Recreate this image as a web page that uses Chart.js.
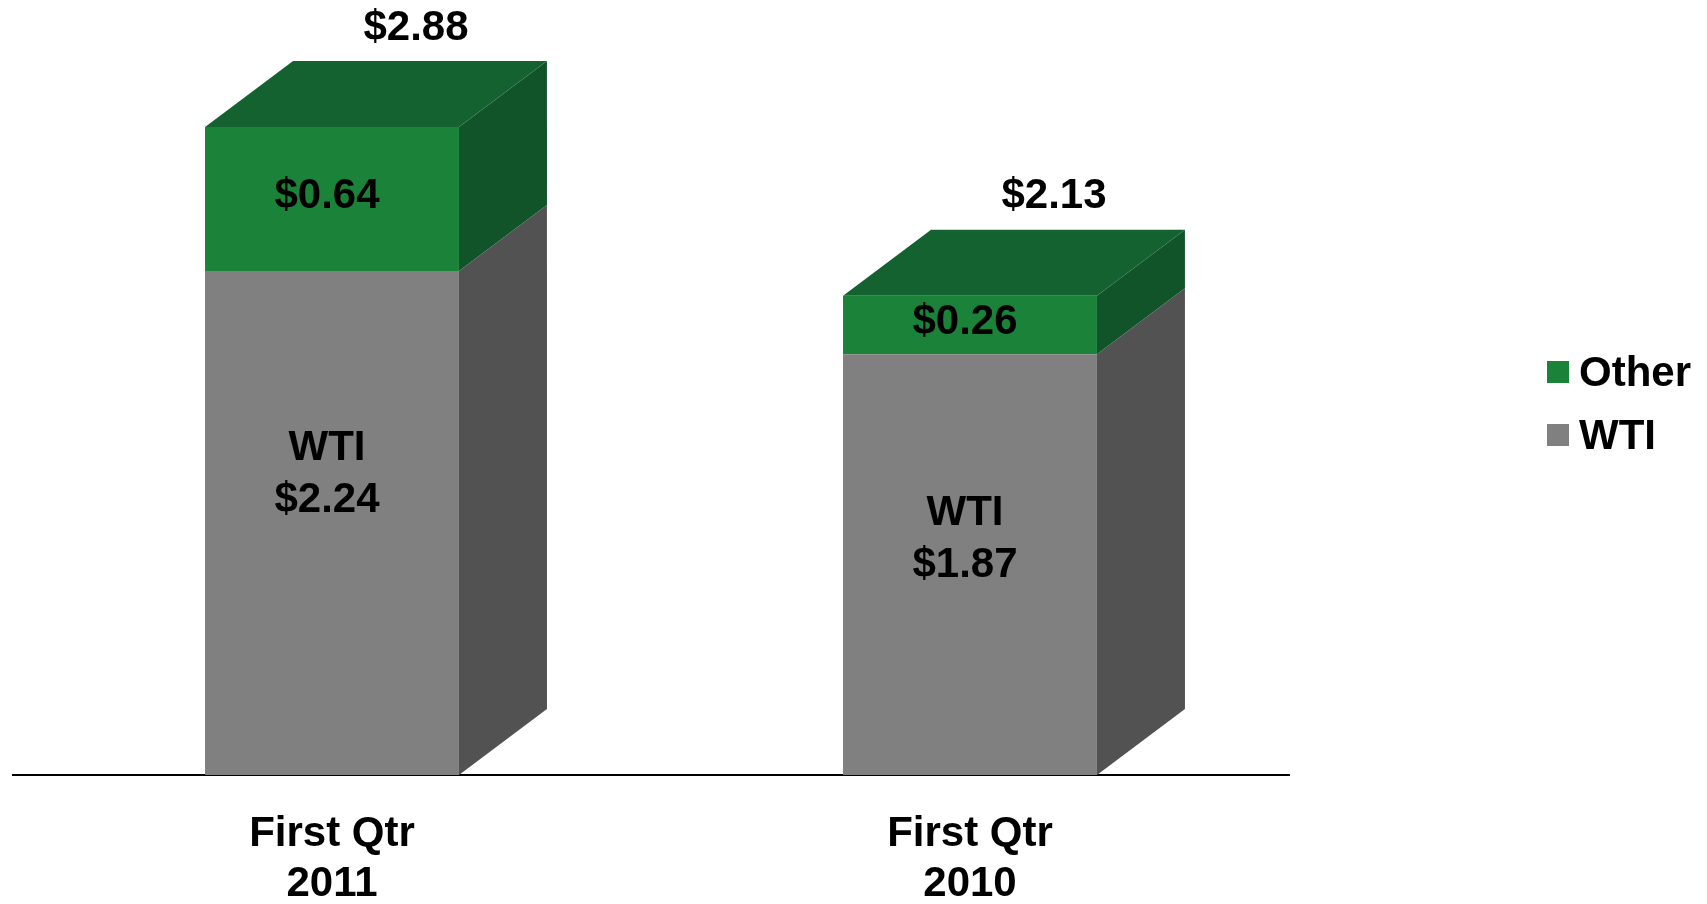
<!DOCTYPE html>
<html>
<head>
<meta charset="utf-8">
<script src="https://cdn.jsdelivr.net/npm/chart.js@4.4.0/dist/chart.umd.min.js"></script>
<style>
  html, body { margin: 0; padding: 0; background: #fff; }
  #wrap { width: 1707px; height: 904px; position: relative; }
</style>
</head>
<body>
<div id="wrap"><canvas id="chart"></canvas></div>
<script>
// data
var categories = [['First Qtr', '2011'], ['First Qtr', '2010']];
var wti = [2.24, 1.87];
var other = [0.64, 0.26];

var FONT = '"Liberation Sans", Arial, sans-serif';
var DX = 88, DY = 66; // depth of the 3d boxes

function money(v) { return '$' + v.toFixed(2); }

// draws the side + top faces, the value labels and the legend
var boxes3d = {
    id: 'boxes3d',
    beforeDatasetsDraw: function (chart) {
        var ctx = chart.ctx;
        ctx.save();
        chart.data.datasets.forEach(function (ds, di) {
            var meta = chart.getDatasetMeta(di);
            meta.data.forEach(function (bar) {
                var right = bar.x + bar.width / 2;
                ctx.fillStyle = ds.sideColor;
                ctx.beginPath();
                ctx.moveTo(right, bar.y);
                ctx.lineTo(right + DX, bar.y - DY);
                ctx.lineTo(right + DX, bar.base - DY);
                ctx.lineTo(right, bar.base);
                ctx.closePath();
                ctx.fill();
            });
        });
        // top face on the last stack
        var last = chart.data.datasets.length - 1;
        var topDs = chart.data.datasets[last];
        chart.getDatasetMeta(last).data.forEach(function (bar) {
            var left = bar.x - bar.width / 2, right = bar.x + bar.width / 2;
            ctx.fillStyle = topDs.topColor;
            ctx.beginPath();
            ctx.moveTo(left, bar.y);
            ctx.lineTo(left + DX, bar.y - DY);
            ctx.lineTo(right + DX, bar.y - DY);
            ctx.lineTo(right, bar.y);
            ctx.closePath();
            ctx.fill();
        });
        ctx.restore();
    },
    afterDatasetsDraw: function (chart) {
        var ctx = chart.ctx;
        ctx.save();
        ctx.fillStyle = '#000';
        ctx.font = 'bold 42px ' + FONT;
        ctx.textAlign = 'center';
        ctx.textBaseline = 'middle';

        var wtiBars = chart.getDatasetMeta(0).data;
        var otherBars = chart.getDatasetMeta(1).data;
        wtiBars.forEach(function (bar, i) {
            var h = bar.base - bar.y;
            var y = bar.y + 96 + h * 0.213;
            ctx.fillText('WTI', bar.x - 5, y - 26);
            ctx.fillText(money(wti[i]), bar.x - 5, y + 26);
        });
        otherBars.forEach(function (bar, i) {
            var y = (bar.y + bar.base) / 2 - 3;
            ctx.fillText(money(other[i]), bar.x - 5, y);
            ctx.fillText(money(wti[i] + other[i]), bar.x + DX - 4, bar.y - DY - 33);
        });

        // legend, top series first
        var items = chart.data.datasets.slice().reverse();
        items.forEach(function (ds, k) {
            var cy = 372 + k * 63;
            ctx.fillStyle = ds.backgroundColor;
            ctx.fillRect(1547, cy - 11, 22, 22);
            ctx.fillStyle = '#000';
            ctx.textAlign = 'left';
            ctx.fillText(ds.label, 1579, cy + 2);
        });
        ctx.restore();
    }
};

new Chart(document.getElementById('chart'), {
    type: 'bar',
    data: {
        labels: categories,
        datasets: [
            { label: 'WTI', data: wti, backgroundColor: '#808080', sideColor: '#525252' },
            { label: 'Other', data: other, backgroundColor: '#1b823a', sideColor: '#11542a', topColor: '#14622f' }
        ]
    },
    options: {
        responsive: true,
        maintainAspectRatio: false,
        animation: false,
        layout: { padding: { left: 13, right: 418, top: 55, bottom: 0 } },
        datasets: { bar: { barPercentage: 1, categoryPercentage: 0.398 } },
        plugins: {
            legend: { display: false },
            tooltip: { enabled: false }
        },
        scales: {
            x: {
                stacked: true,
                grid: { display: false, drawTicks: false },
                border: { display: true, color: '#000', width: 2 },
                ticks: {
                    color: '#000',
                    padding: 34,
                    font: { family: FONT, size: 42, weight: 'bold', lineHeight: 1.2 }
                },
                afterFit: function (scale) { scale.height = 129; }
            },
            y: {
                stacked: true,
                display: false,
                min: 0,
                max: 3.2
            }
        }
    },
    plugins: [boxes3d]
});
</script>
</body>
</html>
